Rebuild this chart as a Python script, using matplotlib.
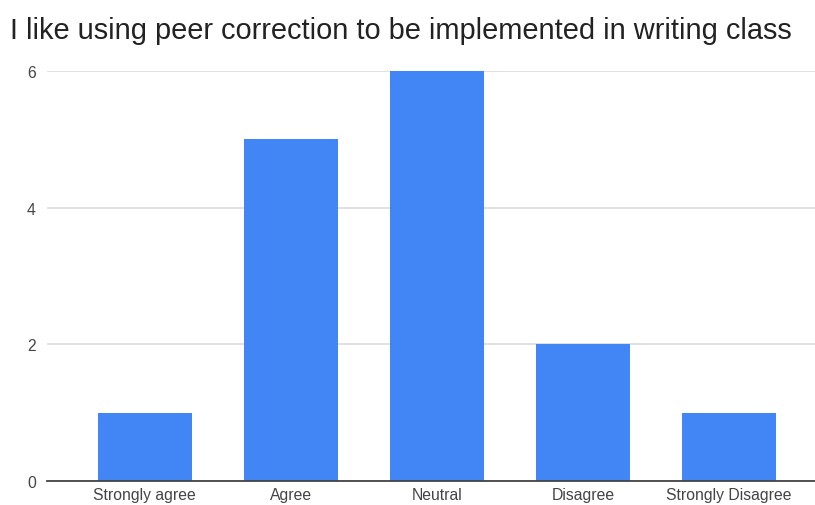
import matplotlib.pyplot as plt

categories = ["Strongly agree", "Agree", "Neutral", "Disagree", "Strongly Disagree"]
counts = [1, 5, 6, 2, 1]
yticks = [0, 2, 4, 6]

W, H = 815, 506
fig = plt.figure(figsize=(W / 100, H / 100), dpi=100)
plt.rcParams['font.family'] = ['Liberation Sans', 'DejaVu Sans']

ax = fig.add_axes([47 / W, 24 / H, (W - 47) / W, 410 / H])
x = list(range(len(categories)))
ax.bar(x, counts, width=0.64, color="#4285F4", zorder=3)

ax.set_xlim(-0.67, 4.59)
ax.set_ylim(0, 6)
ax.set_yticks(yticks)
ax.set_yticklabels([str(t) for t in yticks])
ax.set_xticks(x)
ax.set_xticklabels(categories)
ax.grid(axis="y", color="#dcdcdc", linewidth=1.2, zorder=0)
for s in ["top", "right", "left"]:
    ax.spines[s].set_visible(False)
ax.spines["bottom"].set_color("#444444")
ax.spines["bottom"].set_linewidth(1.3)
ax.spines["bottom"].set_zorder(4)
ax.tick_params(axis="both", length=0, labelsize=11.3, labelcolor="#444444")
ax.tick_params(axis="y", pad=8)
ax.tick_params(axis="x", pad=4)

fig.text(10 / W, 1 - 39 / H, "I like using peer correction to be implemented in writing class",
         fontsize=20.9, color="#222222", ha="left", va="baseline")

fig.savefig("out.png", dpi=100)
